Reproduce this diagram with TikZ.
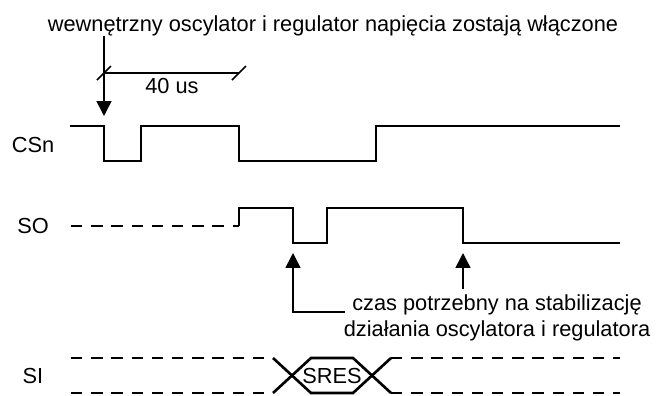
\documentclass[tikz,border=0pt]{standalone}
\usepackage{fontspec}
\setmainfont{Liberation Sans}
\usetikzlibrary{arrows.meta}

\begin{document}
\begin{tikzpicture}[x=0.02cm, y=-0.02cm,
        every node/.style={font=\fontsize{12.4}{14.8}\selectfont, inner sep=0pt},
        wave/.style={line width=1.7pt},
        undef/.style={line width=1.5pt, dash pattern=on 6.5pt off 5pt},
        pointer/.style={line width=0.9pt, -{Triangle[width=8.5pt, length=8.5pt]}},
        dim/.style={line width=0.9pt}]
            \useasboundingbox (0, 0) rectangle (667, 396);

            \node[] (csn) at (33, 145) {CSn};
            \node[] (so) at (33, 226) {SO};
            \node[] (si) at (33, 376) {SI};

            \node[anchor=base] (wake) at (333, 31) {wewnętrzny oscylator i regulator napięcia zostają włączone};
            \coordinate (wakeup) at (104, 116);
            \draw[pointer] (wake.south -| wakeup) -- (wakeup);

            \coordinate (t0) at (104, 73);
            \coordinate (t1) at (239, 73);
            \draw[dim] (t0) -- (t1);
            \foreach \tick in {t0, t1}
                \draw[dim] ([shift={(-7, 7)}]\tick) -- ([shift={(7, -7)}]\tick);
            \node[] (len) at (172, 86) {40 us};

            \draw[wave] (70, 126) -| (104, 161) -| (141, 126) -| (239, 161) -| (376, 126) -- (620, 126);

            \draw[undef] (71, 226) -- (239, 226);
            \draw[wave] (239, 226) |- (293, 208) |- (327, 243) |- (463, 208) |- (620, 243);

            \coordinate (lockA) at (293, 253);
            \coordinate (lockB) at (463, 253);
            \node[align=center] (note) at (497, 318) {czas potrzebny na stabilizację\\działania oscylatora i regulatora};
            \coordinate (hook) at (345, 312);
            \draw[pointer] (hook) -| (lockA);
            \draw[pointer] ([yshift=3pt]note.north -| lockB) -- (lockB);

            \foreach \lvl in {358, 393} {
                \draw[undef] (71, \lvl) -- (273, \lvl);
                \draw[undef] (391, \lvl) -- (620, \lvl);
            }
            \draw[line width=1.5pt] (273, 358) -- (311, 393) -- (353, 393) -- (391, 358);
            \draw[line width=1.5pt] (273, 393) -- (311, 358) -- (353, 358) -- (391, 393);
            \node[] (sres) at (332, 376) {SRES};
        \end{tikzpicture}
\end{document}
